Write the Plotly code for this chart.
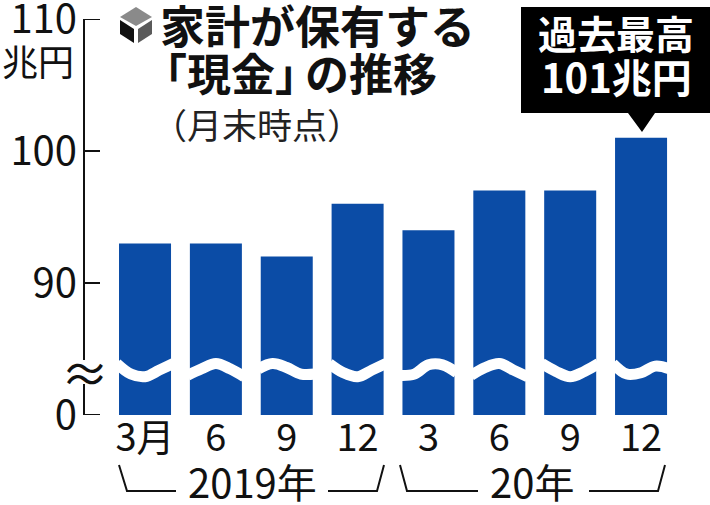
import plotly.graph_objects as go

W = 710
H = 505
FONT = "Noto Sans CJK JP"

month_labels = ["3月", "6", "9", "12", "3", "6", "9", "12"]
cash_trillion = [93, 93, 92, 96, 94, 97, 97, 101]
y_ticks = [80, 90, 100, 110]
y_tick_labels = ["0", "90", "100", "110"]
positions = list(range(len(cash_trillion)))

BLUE = "#0b4ca6"

# plot box in picture pixels
LEFT, RIGHT, TOP, BOTTOM = 85, 710, 19, 415


def px(x):
    return (x - LEFT) / (RIGHT - LEFT)


def py(y):
    return (BOTTOM - y) / (BOTTOM - TOP)


def text(s, x, y, size, color="#111111", bold=False, anchor="center"):
    if bold:
        s = "<b>" + s + "</b>"
    fig.add_annotation(text=s, x=px(x), y=py(y), xref="paper", yref="paper",
                       xanchor=anchor, yanchor="middle", showarrow=False,
                       font=dict(family=FONT, size=size, color=color))


def line(points, color="#111111", width=2):
    path = "M " + " L ".join("%.4f,%.4f" % (px(a), py(b)) for a, b in points)
    fig.add_shape(type="path", path=path, xref="paper", yref="paper",
                  line=dict(color=color, width=width))


def poly(points, color):
    path = "M " + " L ".join("%.4f,%.4f" % (px(a), py(b)) for a, b in points) + " Z"
    fig.add_shape(type="path", path=path, xref="paper", yref="paper",
                  fillcolor=color, line=dict(width=0))


fig = go.Figure()
fig.add_bar(x=positions, y=cash_trillion, width=0.734, marker=dict(color=BLUE, line=dict(width=0)),
            hoverinfo="skip")

# white wavy break over each bar, offsets from bar centre / height on the axis
wave_offsets = [-0.4, -0.2, 0, 0.2, 0.4]
wave_heights = [
    [83.9, 83.1, 82.9, 83.4, 83.9],
    [83.0, 83.5, 83.9, 83.5, 82.9],
    [83.5, 83.9, 83.6, 83.1, 83.1],
    [83.9, 83.2, 82.9, 83.4, 83.9],
    [83.0, 83.1, 83.8, 83.8, 83.2],
    [83.0, 83.6, 83.9, 83.4, 82.9],
    [83.9, 83.3, 82.9, 83.3, 83.9],
    [83.9, 83.1, 83.2, 83.7, 83.5],
]
for pos, heights in zip(positions, wave_heights):
    fig.add_scatter(x=[pos + d for d in wave_offsets], y=heights, mode="lines",
                    line=dict(color="white", width=11, shape="spline"),
                    hoverinfo="skip", showlegend=False)

fig.update_layout(
    width=W, height=H, showlegend=False,
    margin=dict(l=LEFT, r=W - RIGHT, t=TOP, b=H - BOTTOM, pad=0),
    paper_bgcolor="white", plot_bgcolor="white",
    font=dict(family=FONT, color="#111111"),
)
fig.update_xaxes(range=[-0.847, 7.973], tickvals=positions, ticktext=month_labels,
                 showgrid=False, zeroline=False, showline=False, ticks="", automargin=False,
                 tickangle=0, ticklabelstandoff=-3, tickfont=dict(family=FONT, size=38))
fig.update_yaxes(range=[80, 110], tickvals=y_ticks, ticktext=y_tick_labels,
                 showgrid=False, zeroline=False, showline=True, linecolor="#111111", linewidth=2,
                 ticks="", ticklabelstandoff=-2, ticklabeloverflow="allow", automargin=False,
                 tickfont=dict(family=FONT, size=40))

# y ticks point right from the axis
for tick in y_ticks:
    fig.add_shape(type="line", xref="paper", yref="y", x0=0, x1=px(100), y0=tick, y1=tick,
                  line=dict(color="#111111", width=2))

# axis break
line([(85, 360), (85, 384)], color="white", width=5)
text("≈", 85, 371, 48)

text("兆円", 38, 60, 36)

# cube icon
poly([(136, 7), (152, 17), (136, 26), (120, 17)], "#8a8a8a")
poly([(120, 20), (134, 29), (134, 43), (120, 34)], "#111111")
poly([(138, 29), (152, 20), (152, 34), (138, 43)], "#5a5a5a")

text("家計が保有する", 158, 24, 45, bold=True, anchor="left")
text("「現金」", 141, 72, 44, bold=True, anchor="left")
text("の推移", 303, 72, 44, bold=True, anchor="left")
text("（月末時点）", 150, 123, 35, color="#222222", anchor="left")

# callout
poly([(521, 7), (710, 7), (710, 113), (655, 113), (642, 132), (628, 113), (521, 113)], "#000000")
text("過去最高", 616, 32, 39, color="white", bold=True)
text("101兆円", 616, 76, 40, color="white", bold=True)

# year brackets
text("2019年", 252, 481, 40)
text("20年", 532, 481, 40)
line([(119, 465), (127, 491), (176, 491)])
line([(328, 491), (377, 491), (384, 465)])
line([(400, 465), (407, 491), (478, 491)])
line([(589, 491), (658, 491), (665, 465)])

fig.write_html("out.html", post_script="document.body.style.margin='0';",
               config=dict(displayModeBar=False))
